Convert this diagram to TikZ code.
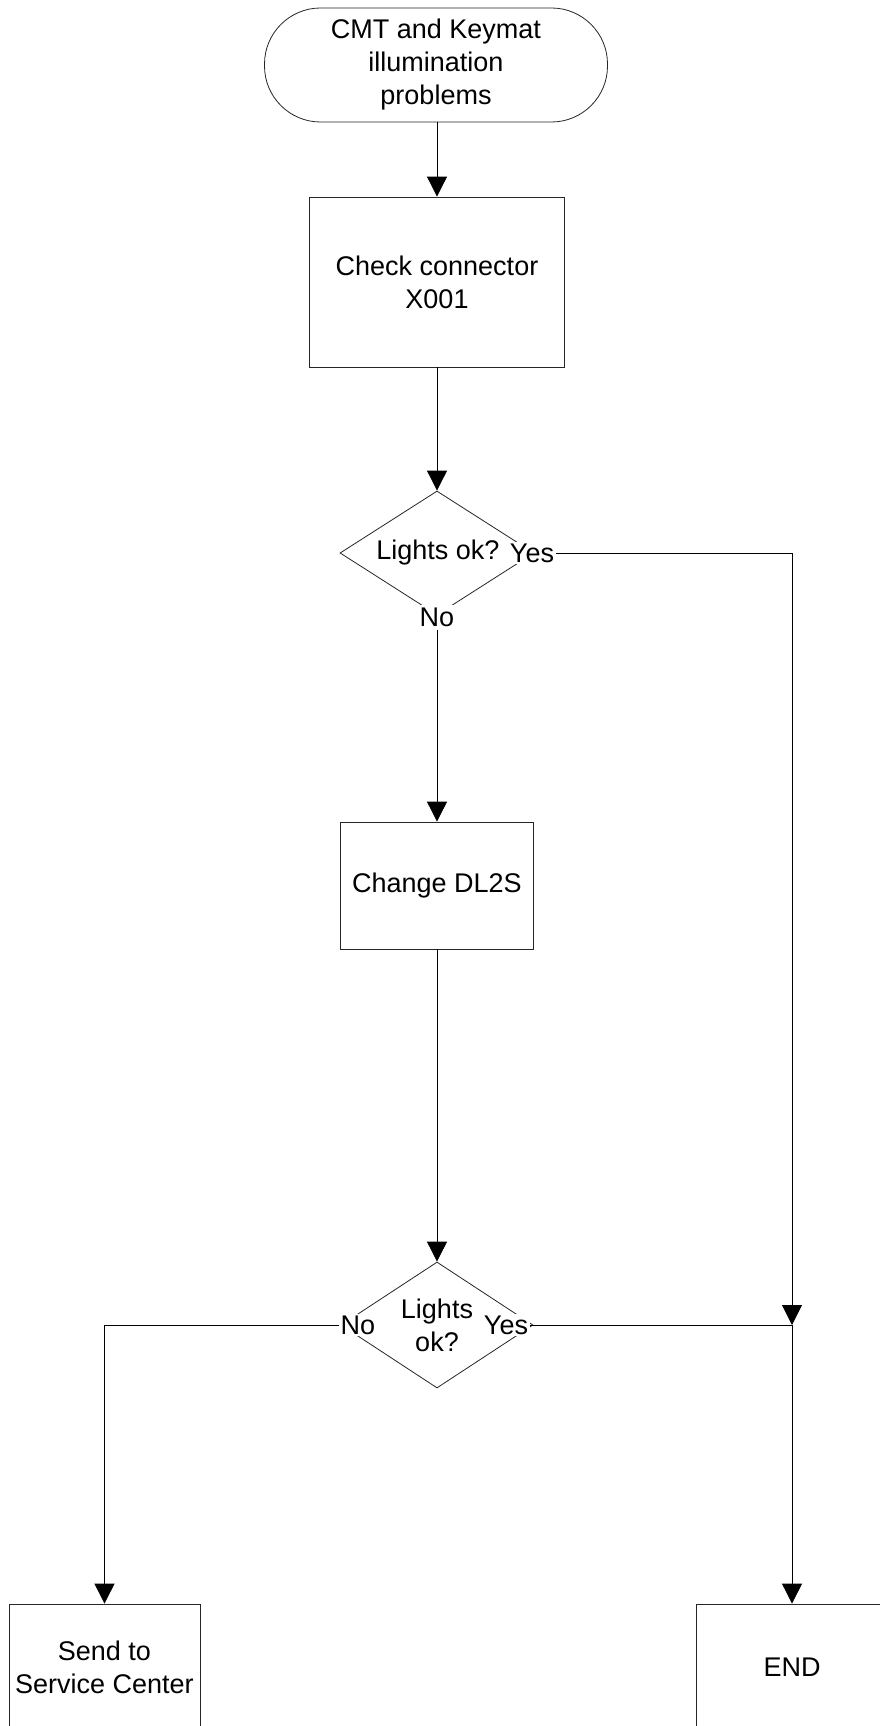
\documentclass[tikz,border=0pt]{standalone}
\usepackage{fontspec}
\setmainfont{Liberation Sans}
\usetikzlibrary{shapes.geometric,arrows.meta}
\begin{document}
\begin{tikzpicture}[x=1pt,y=1pt,
  every node/.style={font=\fontsize{27}{33}\selectfont},
  boxstyle/.style={draw=black!85,line width=0.8pt,rectangle,inner sep=0pt,align=center},
  decstyle/.style={draw=black!85,line width=0.8pt,diamond,inner sep=0pt},
  lbl/.style={fill=white,inner sep=1.5pt},
  conn/.style={draw=black,line width=0.8pt},
  arr/.style={conn,-{Triangle[width=20pt,length=20pt]}}
]
\useasboundingbox (0,0) rectangle (880,-1726);
\fill[white] (0,0) rectangle (880,-1726);
% nodes
\node[boxstyle,rounded corners=56pt,minimum width=343pt,minimum height=114pt] (start) at (436,-65) {CMT and Keymat\\illumination\\problems};
\node[boxstyle,minimum width=255pt,minimum height=170pt] (check) at (437,-282) {Check connector\\X001};
\node[decstyle,minimum width=194pt,minimum height=124pt] (d1) at (437,-553) {};
\node[inner sep=0pt] (d1t) at (438,-553) {Lights ok?};
\node[lbl] (yes1) at (532,-553) {Yes};
\node[lbl,inner sep=3pt] (no1) at (437,-617) {No};
\node[boxstyle,minimum width=193pt,minimum height=127pt] (change) at (437,-885.5) {Change DL2S};
\node[decstyle,minimum width=192pt,minimum height=126pt] (d2) at (437,-1325) {};
\node[inner sep=0pt,align=center] (d2t) at (437,-1325) {Lights\\ok?};
\node[lbl] (no2) at (358,-1325) {No};
\node[lbl] (yes2) at (506,-1325) {Yes};
\node[boxstyle,minimum width=191pt,minimum height=127pt] (send) at (104.5,-1667.5) {Send to\\Service Center};
\node[boxstyle,minimum width=192pt,minimum height=127pt] (end) at (792,-1667.5) {END};
\coordinate (c1) at (792,-553);
\coordinate (J) at (792,-1325);
\coordinate (c2) at (104.5,-1325);
% connectors
\draw[arr] (start.south -| check.north) -- (check.north);
\draw[arr] (check.south) -- (d1.north);
\draw[conn] (yes1.east) -- (c1);
\draw[arr] (c1) -- (J);
\draw[arr] (J) -- (end.north);
\draw[arr] (no1.south) -- (change.north);
\draw[arr] (change.south) -- (d2.north);
\draw[conn] (yes2.east) -- (J);
\draw[conn] (no2.west) -- (c2);
\draw[arr] (c2) -- (send.north);
\end{tikzpicture}
\end{document}
